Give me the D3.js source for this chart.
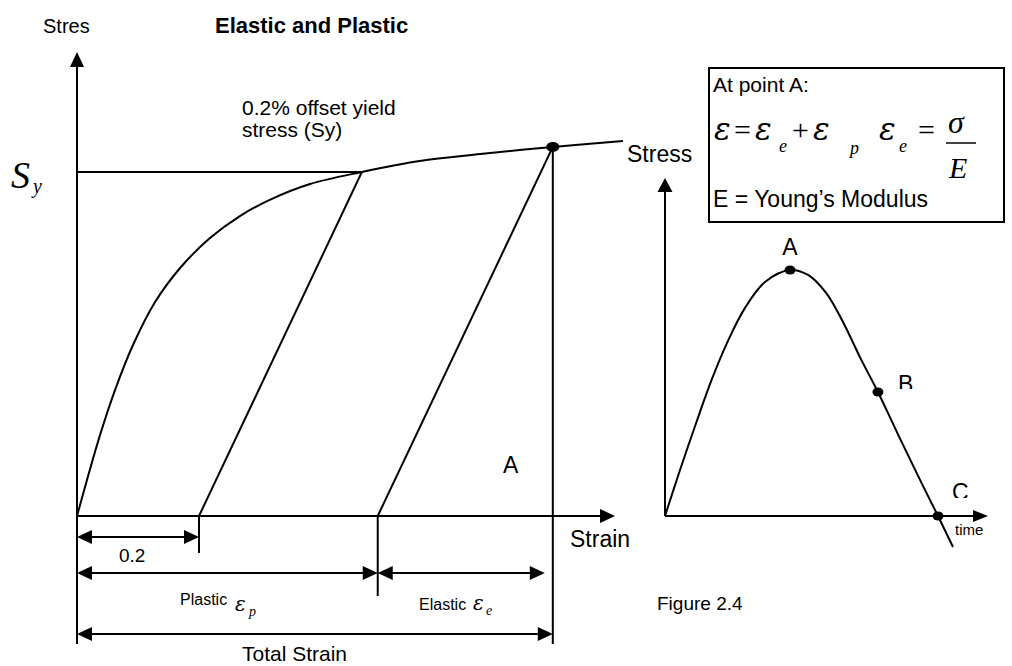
<!DOCTYPE html>
<html>
<head>
<meta charset="utf-8">
<title>Elastic and Plastic</title>
<script src="https://cdnjs.cloudflare.com/ajax/libs/d3/7.8.5/d3.min.js"></script>
<style>
body { margin: 0; background: #fff; }
text { font-family: Arial, "Liberation Sans", sans-serif; fill: #000; }
.math { font-family: "Times New Roman", "Liberation Serif", serif; font-style: italic; }
.eps { font-family: "DejaVu Serif", serif; font-style: italic; }
.sym { font-family: "Times New Roman", "Liberation Serif", serif; }
</style>
</head>
<body>
<svg id="chart" width="1012" height="666"></svg>
<script>
// stress-strain curve: strain in %, stress as a fraction of Sy
const curveStrain = [0, 0.0164, 0.0377, 0.0623, 0.0918, 0.128, 0.169, 0.218, 0.267, 0.316, 0.382, 0.467, 0.562, 0.661, 0.780, 0.895];
const curveStress = [0, 0.105, 0.235, 0.366, 0.497, 0.622, 0.721, 0.808, 0.872, 0.919, 0.965, 1.0, 1.032, 1.052, 1.073, 1.090];
const yieldStress = 1.0;
const yieldStrain = 0.467;
const offsetStrain = 0.2;
const unloadStrain = 0.493;
const pointA = [0.780, 1.073];

// stress vs time (small figure)
const timeVals = [0, 0.55, 1.14, 1.72, 2.27, 2.93, 3.66, 4.58, 5.24, 5.90, 6.52, 7.14, 7.80, 8.53, 9.27, 10, 10.55];
const stressVals = [0, 1.87, 3.78, 5.57, 7.03, 8.46, 9.51, 10, 9.80, 9.07, 7.89, 6.46, 5.04, 3.33, 1.63, 0, -1.26];
const markedLabels = ["A", "B", "C"];
const markedIndex = [7, 12, 15];

const svg = d3.select("#chart");
const LW = 2;

// left chart frame
const L = { x0: 77, y0: 516, xEnd: 615, yTop: 52, bottom: 644 };
const xL = d3.scaleLinear().domain([0, 0.2]).range([L.x0, 199]);
const yL = d3.scaleLinear().domain([0, 1]).range([L.y0, 172]);

// right chart frame
const R = { x0: 665, y0: 516, xEnd: 988, yTop: 178 };
const xR = d3.scaleLinear().domain([0, 10]).range([R.x0, 938]);
const yR = d3.scaleLinear().domain([0, 10]).range([R.y0, 270]);

function line(x1, y1, x2, y2) {
    svg.append("line")
       .attr("x1", x1).attr("y1", y1).attr("x2", x2).attr("y2", y2)
       .attr("stroke", "#000").attr("stroke-width", LW);
}

// arrow head with its tip at (x, y)
function head(x, y, dir, len = 15, hw = 7) {
    let pts;
    if (dir == "up") pts = [[x, y], [x - hw, y + len], [x + hw, y + len]];
    if (dir == "right") pts = [[x, y], [x - len, y - hw], [x - len, y + hw]];
    if (dir == "left") pts = [[x, y], [x + len, y - hw], [x + len, y + hw]];
    svg.append("polygon").attr("points", pts.map(p => p.join(",")).join(" ")).attr("fill", "#000");
}

function dim(x1, x2, y) {
    line(x1 + 4, y, x2 - 4, y);
    head(x1, y, "left");
    head(x2, y, "right");
}

function label(txt, x, y, size, cls, weight) {
    const t = svg.append("text").attr("x", x).attr("y", y)
                 .style("font-size", size + "px").text(txt);
    if (cls) t.attr("class", cls);
    if (weight) t.style("font-weight", weight);
    return t;
}

// ---------- left figure ----------
line(L.x0, L.yTop + 10, L.x0, L.bottom);
head(L.x0, L.yTop, "up");
line(L.x0, L.y0, L.xEnd - 10, L.y0);
head(L.xEnd, L.y0, "right", 15, 7);

line(xL(0), yL(yieldStress), xL(yieldStrain), yL(yieldStress));

const strainPts = curveStrain.map((s, i) => [s, curveStress[i]]);
svg.append("path")
   .datum(strainPts)
   .attr("d", d3.line().x(d => xL(d[0])).y(d => yL(d[1])).curve(d3.curveCatmullRom))
   .attr("fill", "none").attr("stroke", "#000").attr("stroke-width", LW);

// 0.2% offset line and unloading line from A
line(xL(offsetStrain), yL(0), xL(yieldStrain), yL(yieldStress));
line(xL(unloadStrain), yL(0), xL(pointA[0]), yL(pointA[1]));
line(xL(pointA[0]), yL(pointA[1]), xL(pointA[0]), L.bottom);

svg.append("ellipse").attr("cx", xL(pointA[0])).attr("cy", yL(pointA[1]))
   .attr("rx", 6.5).attr("ry", 5).attr("fill", "#000");

// dimension lines
line(xL(offsetStrain), yL(0), xL(offsetStrain), 553);
line(xL(unloadStrain), yL(0), xL(unloadStrain), 596);
dim(xL(0), xL(offsetStrain), 537);
dim(xL(0), xL(unloadStrain), 573);
dim(xL(unloadStrain), xL(pointA[0]) - 8, 573);
dim(xL(0), xL(pointA[0]), 634);

label("Stres", 43, 33, 20);
label("Elastic and Plastic", 215, 33, 22, null, "bold");
label("0.2% offset yield", 242, 115, 21);
label("stress (Sy)", 242, 137, 21);
label("S", 11, 188, 38, "math");
label("y", 33, 193, 20, "math");
label("A", 503, 473, 23);
label("Strain", 570, 547, 23);
label("0.2", 119, 562, 19);
label("Plastic", 180, 605, 16);
label("\u03b5", 235, 611, 20, "eps");
label("p", 249, 616, 14, "math");
label("Elastic", 419, 610, 16);
label("\u03b5", 473, 610, 20, "eps");
label("e", 486, 615, 14, "math");
label("Total Strain", 242, 661, 21);
label("Figure 2.4", 657, 610, 19);

// ---------- right figure ----------
line(R.x0, R.yTop + 10, R.x0, R.y0);
head(R.x0, R.yTop, "up", 14, 7.5);
line(R.x0, R.y0, R.xEnd - 10, R.y0);
head(R.xEnd, R.y0, "right", 15, 6);

const timePts = timeVals.map((t, i) => [t, stressVals[i]]);
svg.append("path")
   .datum(timePts)
   .attr("d", d3.line().x(d => xR(d[0])).y(d => yR(d[1])).curve(d3.curveCatmullRom))
   .attr("fill", "none").attr("stroke", "#000").attr("stroke-width", LW);

svg.selectAll("ellipse.mark")
   .data(markedIndex)
   .enter()
   .append("ellipse")
   .attr("class", "mark")
   .attr("cx", i => xR(timeVals[i]))
   .attr("cy", i => yR(stressVals[i]))
   .attr("rx", 5.5).attr("ry", 4.5).attr("fill", "#000");

// B and C labels are cut off at the bottom in the original
svg.append("clipPath").attr("id", "clipB").append("rect").attr("x", 880).attr("y", 360).attr("width", 60).attr("height", 29);
svg.append("clipPath").attr("id", "clipC").append("rect").attr("x", 940).attr("y", 470).attr("width", 60).attr("height", 28);
label(markedLabels[0], xR(timeVals[markedIndex[0]]), 255, 23).attr("text-anchor", "middle");
label(markedLabels[1], 898, 392, 23).attr("clip-path", "url(#clipB)");
label(markedLabels[2], 952, 500, 23).attr("clip-path", "url(#clipC)");
label("time", 955, 535, 15);
label("Stress", 627, 162, 23);

// formula box
svg.append("rect").attr("x", 709).attr("y", 68).attr("width", 295).attr("height", 154)
   .attr("fill", "none").attr("stroke", "#000").attr("stroke-width", LW);
label("At point A:", 713, 92, 21);
label("\u03b5", 714, 140, 31, "eps");
label("=", 734, 140, 30, "sym");
label("\u03b5", 755, 140, 31, "eps");
label("e", 779, 152, 18, "math");
label("+", 792, 140, 30, "sym");
label("\u03b5", 813, 140, 31, "eps");
label("p", 850, 154, 18, "math");
label("\u03b5", 879, 140, 31, "eps");
label("e", 899, 152, 18, "math");
label("=", 918, 140, 30, "sym");
label("\u03c3", 948, 133, 32, "math");
svg.append("line").attr("x1", 946).attr("y1", 143).attr("x2", 976).attr("y2", 143)
   .attr("stroke", "#000").attr("stroke-width", 1.5);
label("E", 949, 178, 30, "math");
label("E = Young\u2019s Modulus", 713, 207, 23);
</script>
</body>
</html>
